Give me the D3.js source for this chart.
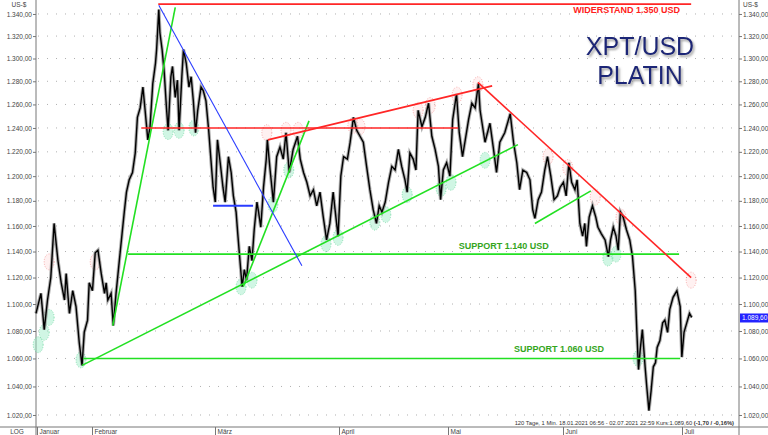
<!DOCTYPE html>
<html><head><meta charset="utf-8">
<script src="https://cdn.jsdelivr.net/npm/d3@7/dist/d3.min.js"></script>
<style>
html,body{margin:0;padding:0;background:#fff;}
svg{display:block;font-family:"Liberation Sans",Arial,sans-serif;}
</style></head>
<body>
<svg id="c" width="768" height="435"></svg>
<script>
// ---- data (trading day index since 18.01.2021, close in USD) ----
const days = [0,0.9,1.5,2.1,2.7,3.3,4.0,4.6,5.2,5.5,6.1,6.7,7.3,7.9,8.4,8.8,9.4,9.7,10.3,10.8,11.3,11.9,12.5,12.8,13.1,13.7,14.1,14.6,15.2,15.7,16.1,16.5,17.0,17.6,18.1,18.5,19.0,19.5,19.9,20.4,20.8,21.3,21.8,22.0,22.4,22.6,23.0,23.4,23.8,24.1,24.6,24.9,25.4,25.8,26.1,26.6,26.9,27.4,27.9,28.3,28.7,29.1,29.5,30.1,30.5,31.0,31.5,31.9,32.3,32.7,33.1,33.6,34.1,34.5,35.1,35.6,36.0,36.5,36.8,37.2,37.6,38.0,38.4,38.9,39.4,39.8,40.3,40.6,41.0,41.5,42.0,42.2,42.7,43.3,43.9,44.5,45.1,45.6,46.2,46.9,47.7,48.2,48.8,49.4,50.0,50.6,51.2,51.8,52.4,53.0,53.6,54.2,54.7,55.1,55.6,56.1,56.8,57.3,57.9,58.5,59.1,59.7,60.3,60.9,61.5,62.1,62.6,63.1,63.7,64.3,64.9,65.5,66.1,66.7,67.3,67.7,68.2,68.8,69.3,69.7,70.4,71.0,71.6,72.2,72.8,73.4,73.8,74.3,74.9,75.5,76.0,76.7,77.2,77.8,78.3,78.9,79.5,80.1,80.7,81.0,81.9,82.8,83.4,84.0,84.6,85.5,86.5,87.1,87.7,88.2,88.8,89.5,90.1,90.6,91.0,91.6,92.2,92.8,93.3,93.9,94.5,95.1,95.6,96.2,96.7,97.2,97.7,98.3,98.7,99.2,99.7,100.1,100.4,100.9,101.5,102.1,102.5,103.1,103.8,104.4,104.8,105.3,105.8,106.2,106.6,107.1,107.7,108.3,108.8,109.3,109.6,109.9,110.2,110.6,111.1,111.4,111.8,112.2,112.6,113.0,113.3,113.8,114.3,114.7,115.2,115.6,116.2,116.9,117.5,117.8,118.2,118.7,119.2,119.6];
const closes = [1093,1108,1081,1103,1120,1162,1133,1116,1103,1123,1093,1110,1098,1071,1055,1079,1088,1116,1110,1139,1141,1123,1108,1116,1103,1108,1084,1108,1133,1154,1171,1187,1197,1203,1219,1249,1257,1275,1255,1230,1241,1278,1296,1308,1344,1323,1308,1287,1257,1238,1284,1293,1266,1281,1238,1284,1308,1296,1275,1284,1263,1236,1255,1275,1272,1263,1238,1214,1191,1179,1230,1211,1191,1179,1216,1203,1184,1171,1154,1133,1113,1126,1118,1144,1133,1157,1179,1171,1159,1191,1214,1230,1205,1179,1216,1224,1214,1236,1203,1222,1233,1214,1203,1195,1184,1189,1176,1187,1167,1149,1162,1187,1167,1152,1200,1216,1214,1228,1249,1238,1233,1228,1208,1189,1173,1162,1176,1171,1179,1195,1208,1205,1222,1208,1197,1187,1219,1214,1205,1255,1241,1249,1261,1233,1222,1208,1181,1205,1211,1200,1247,1269,1236,1216,1230,1247,1261,1257,1278,1255,1228,1244,1224,1203,1228,1236,1252,1228,1211,1189,1205,1203,1197,1173,1166,1181,1187,1205,1216,1200,1181,1184,1191,1195,1184,1211,1195,1189,1197,1162,1152,1162,1144,1167,1176,1167,1159,1154,1149,1136,1149,1159,1152,1141,1171,1167,1157,1149,1136,1110,1079,1052,1066,1081,1054,1040,1023,1037,1054,1057,1068,1073,1086,1088,1079,1096,1105,1110,1098,1061,1079,1086,1093,1090];
const lastPrice = 1089.60;

const yTicks = [1020,1040,1060,1080,1100,1120,1140,1160,1180,1200,1220,1240,1260,1280,1300,1320,1340];
const monthLabels = ["Januar","Februar","März","April","Mai","Juni","Juli"];
const monthDays = [0.1,10.2,32.6,55.3,75.2,96.1,117.9];

// trend lines: [day1, price1, day2, price2]
const redLines = [[22.3,1349,119.5,1349],[19.2,1240,77.0,1240],[42.3,1230,83.2,1276],[80.6,1279,119.5,1120]];
const greenLines = [[14.0,1084,25.4,1346],[37.8,1113,49.8,1246],[8.4,1055,87.9,1226],[16.8,1138,117.3,1138],[8.6,1060,117.5,1060],[91.0,1162,101.2,1188]];
const blueLines = [[22.4,1348,48.5,1129]];
const blueBars = [[32.3,1176,39.6,1176]];

const redTouches = [[2.4,1132],[10.8,1132],[42.1,1236],[45.6,1238],[47.8,1238],[57.8,1242],[59.1,1241],[69.7,1255],[71.9,1259],[76.8,1268],[80.6,1277],[93.4,1216],[97.0,1207],[102.0,1183],[106.7,1167],[119.5,1118]];
const greenTouches = [[0.4,1070],[1.5,1079],[2.4,1090],[8.2,1059],[24.1,1237],[26.1,1238],[28.8,1240],[37.4,1113],[39.4,1118],[43.2,1177],[46.1,1205],[52.9,1146],[55.1,1151],[61.8,1163],[63.8,1169],[67.7,1185],[73.9,1190],[75.7,1195],[81.9,1213],[104.3,1135],[105.8,1138],[109.8,1060]];

const labels = [
  {text:"WIDERSTAND 1.350 USD", day:98.0, price:1341, cls:"red"},
  {text:"SUPPORT 1.140 USD", day:77.1, price:1142, cls:"green"},
  {text:"SUPPORT 1.060 USD", day:87.2, price:1064.5, cls:"green"}
];
const titleLines = ["XPT/USD","PLATIN"];
const infoText = "120 Tage, 1 Min. 18.01.2021 06:56 - 02.07.2021 22:59 Kurs:1.089,60 ";
const infoBold = "(-1,70 / -0,16%)";

// ---- drawing ----
const W = 768, H = 435;
const left = 36, right = 739, bottom = 427;
const svg = d3.select("#c");
const x = d3.scaleLinear().domain([0,120]).range([left, left + 120/0.1824]);
const y = d3.scaleLog().domain([1011.7, 1352.8]).range([bottom, 0]);
const loc = d3.formatLocale({decimal:",", thousands:".", grouping:[3], currency:["",""]});
const fmt = loc.format(",.2f");

// grid
svg.append("g").selectAll("line").data(yTicks).join("line")
  .attr("x1", left+2).attr("x2", right-2)
  .attr("y1", d=>y(d)).attr("y2", d=>y(d))
  .attr("stroke","#b0b0b0").attr("stroke-width",1).attr("stroke-dasharray","1,8");

// axes
const gl = svg.append("g").attr("transform",`translate(${left},0)`)
  .call(d3.axisLeft(y).tickValues(yTicks).tickFormat(fmt).tickSize(3).tickPadding(1));
const gr = svg.append("g").attr("transform",`translate(${right},0)`)
  .call(d3.axisRight(y).tickValues(yTicks).tickFormat(fmt).tickSize(3).tickPadding(1));
[gl,gr].forEach(g=>{
  g.select(".domain").remove();
  g.selectAll("line").attr("stroke","#777");
  g.selectAll("text").attr("font-size","6.5px").attr("fill","#444").attr("font-family","Liberation Sans, Arial");
});
svg.append("line").attr("x1",left).attr("x2",left).attr("y1",0).attr("y2",H).attr("stroke","#777");
svg.append("line").attr("x1",right).attr("x2",right).attr("y1",0).attr("y2",H).attr("stroke","#777");
svg.append("line").attr("x1",0).attr("x2",W).attr("y1",bottom).attr("y2",bottom).attr("stroke","#777");
svg.append("text").attr("x",19).attr("y",7).attr("text-anchor","middle").attr("font-size","6.5px").attr("fill","#444").text("US-$");
svg.append("text").attr("x",743).attr("y",7).attr("font-size","6.5px").attr("fill","#444").text("US-$");
svg.append("text").attr("x",17).attr("y",434).attr("text-anchor","middle").attr("font-size","6.5px").attr("fill","#444").text("LOG");

// month axis
const mg = svg.append("g");
monthDays.forEach((d,i)=>{
  const px = Math.round(x(d))+0.5;
  mg.append("line").attr("x1",px).attr("x2",px).attr("y1",bottom).attr("y2",H).attr("stroke","#777");
  mg.append("text").attr("x",px+2).attr("y",434).attr("font-size","6.5px").attr("fill","#444").text(monthLabels[i]);
});

// touch ellipses
function touches(data, fill, stroke){
  svg.append("g").selectAll("ellipse").data(data).join("ellipse")
    .attr("cx",d=>x(d[0])).attr("cy",d=>y(d[1])).attr("rx",5).attr("ry",8)
    .attr("fill",fill).attr("stroke",stroke).attr("stroke-width",0.8).attr("stroke-dasharray","1,1.5");
}
touches(redTouches,"rgba(255,215,215,0.35)","rgba(240,120,120,0.75)");
touches(greenTouches,"rgba(150,235,195,0.45)","rgba(80,205,140,0.75)");

// price
const pts = days.map((d,i)=>[d,closes[i]]);
const line = d3.line().x(d=>x(d[0])).y(d=>y(d[1]));
svg.append("path").attr("d",line(pts)).attr("fill","none").attr("stroke","#8a8a8a").attr("stroke-width",3.4).attr("stroke-linejoin","miter").attr("opacity",0.7);
svg.append("path").attr("d",line(pts)).attr("fill","none").attr("stroke","#000").attr("stroke-width",1.4).attr("stroke-linejoin","miter");

// trend lines
function segs(data,color,w){
  svg.append("g").selectAll("line").data(data).join("line")
    .attr("x1",d=>x(d[0])).attr("y1",d=>y(d[1])).attr("x2",d=>x(d[2])).attr("y2",d=>y(d[3]))
    .attr("stroke",color).attr("stroke-width",w);
}
segs(greenLines,"#22e022",1.6);
segs(redLines,"#ff2626",1.6);
segs(blueLines,"#2a3cff",1.1);
segs(blueBars,"#2a3cff",2);

// labels
svg.append("g").selectAll("text").data(labels).join("text")
  .attr("x",d=>x(d.day)).attr("y",d=>y(d.price))
  .attr("font-size","9px").attr("font-weight","bold")
  .attr("fill",d=>d.cls==="red"?"#ff2020":"#34a51c")
  .text(d=>d.text);

// title
const defs = svg.append("defs");
const f = defs.append("filter").attr("id","sh").attr("x","-20%").attr("y","-20%").attr("width","140%").attr("height","160%");
f.append("feDropShadow").attr("dx",1.5).attr("dy",2).attr("stdDeviation",1.2).attr("flood-color","#888").attr("flood-opacity",0.8);
svg.append("g").selectAll("text").data(titleLines).join("text")
  .attr("x",640).attr("y",(d,i)=>55+i*29).attr("text-anchor","middle")
  .attr("font-size","25px").attr("fill","#1c2777").attr("filter","url(#sh)")
  .text(d=>d);

// info text
const it = svg.append("text").attr("x",734).attr("y",425).attr("text-anchor","end").attr("font-size","5.8px").attr("fill","#333");
it.append("tspan").text(infoText);
it.append("tspan").attr("font-weight","bold").text(infoBold);

// last price box
const lp = y(lastPrice);
svg.append("rect").attr("x",740).attr("y",lp-4.5).attr("width",28).attr("height",9).attr("fill","#2323ff");
svg.append("text").attr("x",742).attr("y",lp+2.5).attr("font-size","6.5px").attr("fill","#fff").text(fmt(lastPrice));
</script>
</body></html>
